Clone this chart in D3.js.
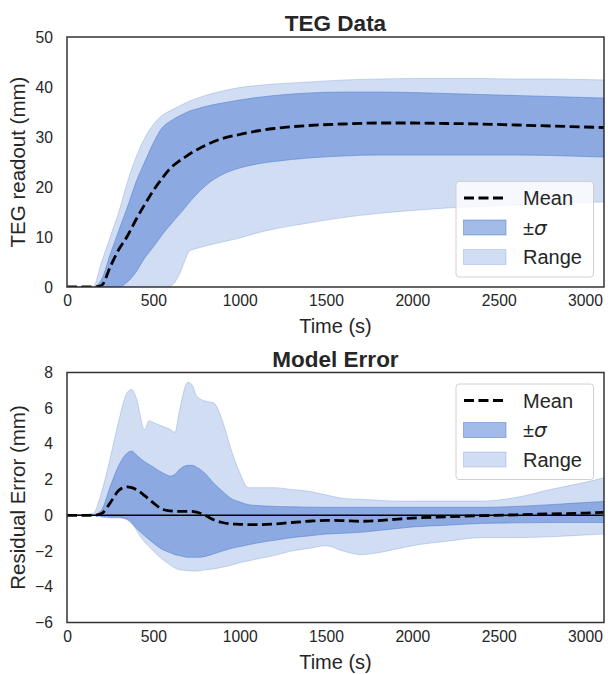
<!DOCTYPE html>
<html>
<head>
<meta charset="utf-8">
<script src="https://cdn.jsdelivr.net/npm/d3@7"></script>
<style>
  body { margin: 0; background: #fff; }
  text { font-family: "Liberation Sans", Arial, sans-serif; fill: #262626; }
</style>
</head>
<body>
<svg id="canvas" width="608" height="675"></svg>
<script>
// ---- data ----
// top panel: TEG readout (mm)
const tegTime   = [0,150,200,250,300,350,400,450,500,550,600,650,680,710,750,800,900,1000,1100,1200,1400,1600,1800,2000,2200,2400,2600,2800,3000,3110];
const tegMean   = [0,0,0.3,4,7.5,10.2,13.5,16.5,19.3,21.7,23.8,25.2,25.9,26.6,27.4,28.3,29.7,30.5,31.2,31.7,32.3,32.6,32.8,32.8,32.7,32.6,32.4,32.2,32.0,31.9];
const tegSdHi   = [0,0,1.5,6.5,11.3,16,21,25,28.8,31.8,33.2,34.2,34.7,35.2,35.6,36.1,36.8,37.4,37.9,38.3,38.8,39,39,38.9,38.7,38.5,38.3,38.1,37.9,37.8];
const tegSdLo   = [0,0,0,0,0,1.0,3,5.8,8,10.4,12.5,14.5,15.7,17,18.5,20.2,22.5,23.8,24.6,25.1,25.8,26.2,26.4,26.4,26.4,26.4,26.4,26.3,26.1,26];
const tegMax    = [0,0,5,10,15,21,26,29.8,32.5,34.3,35.3,36.2,36.7,37.2,37.7,38.3,39.2,39.9,40.3,40.6,41,41.4,41.6,41.7,41.7,41.7,41.6,41.6,41.5,41.4];
const tegMin    = [0,0,0,0,0,0,0,0,0,0,0.2,2.5,5,7.2,7.7,8.2,9,9.8,10.8,11.6,12.8,13.9,14.7,15.3,15.8,16.1,16.4,16.7,16.9,17];

// bottom panel: residual error (mm)
const errTime   = [0,150,200,250,300,350,375,400,450,475,500,550,600,625,650,700,725,750,800,850,900,950,1000,1050,1100,1200,1300,1400,1500,1600,1700,1800,1900,2000,2200,2400,2600,2800,3000,3110];
const errMean   = [0,0,0.1,0.7,1.4,1.6,1.55,1.45,1.1,0.9,0.7,0.35,0.25,0.23,0.22,0.22,0.22,0.18,0,-0.25,-0.4,-0.48,-0.5,-0.52,-0.52,-0.48,-0.4,-0.33,-0.28,-0.3,-0.33,-0.3,-0.22,-0.15,-0.08,-0.02,0.03,0.08,0.13,0.17];
const errSdHi   = [0,0,0.3,1.6,2.8,3.5,3.6,3.4,3.0,2.85,2.7,2.4,2.2,2.3,2.55,2.8,2.8,2.7,2.35,1.8,1.35,0.95,0.75,0.6,0.55,0.5,0.48,0.46,0.45,0.45,0.45,0.45,0.45,0.45,0.45,0.45,0.5,0.6,0.72,0.78];
const errSdLo   = [0,0,-0.05,-0.1,-0.1,-0.25,-0.45,-0.7,-1.15,-1.35,-1.55,-1.9,-2.1,-2.2,-2.25,-2.35,-2.35,-2.35,-2.3,-2.15,-2.0,-1.85,-1.75,-1.65,-1.55,-1.4,-1.25,-1.15,-1.05,-1.0,-0.95,-0.85,-0.75,-0.65,-0.55,-0.45,-0.42,-0.4,-0.4,-0.4];
const errMax    = [0,0.1,1.3,3.2,5.3,6.9,7.05,6.6,4.8,5.3,5.2,5.0,4.8,4.65,5.8,7.45,7.3,6.7,6.4,6.3,5.3,3.7,2.4,1.55,1.55,1.55,1.45,1.35,1.15,0.95,0.9,0.85,0.8,0.8,0.8,0.8,1.0,1.45,1.85,2.1];
const errMin    = [0,0,-0.1,-0.15,-0.15,-0.2,-0.35,-0.8,-1.5,-1.75,-2.0,-2.45,-2.8,-2.95,-3.05,-3.1,-3.12,-3.12,-3.05,-3.0,-2.9,-2.8,-2.65,-2.55,-2.45,-2.25,-2.0,-1.85,-1.7,-2.0,-2.2,-2.1,-1.9,-1.7,-1.45,-1.25,-1.25,-1.2,-1.1,-1.05];

const xTicks    = [0,500,1000,1500,2000,2500,3000];
const tegTicks  = [0,10,20,30,40,50];
const errTicks  = [-6,-4,-2,0,2,4,6,8];
const legendItems = ["Mean", "sigma", "Range"];

const blue = "#4878d0";
const svg = d3.select("#canvas");
const left = 67, right = 604;

function panel(cfg) {
    const x = d3.scaleLinear().domain([0, 3110]).range([left, right]);
    const y = d3.scaleLinear().domain(cfg.yDomain).range([cfg.bottom, cfg.top]);
    const g = svg.append("g");

    // clip so the bands stay inside the frame
    g.append("clipPath").attr("id", cfg.id + "-clip")
      .append("rect")
        .attr("x", left).attr("y", cfg.top)
        .attr("width", right - left).attr("height", cfg.bottom - cfg.top);
    const plot = g.append("g").attr("clip-path", "url(#" + cfg.id + "-clip)");

    const rows = cfg.time.map((t, i) => ({
        t: t, mean: cfg.mean[i], sdHi: cfg.sdHi[i], sdLo: cfg.sdLo[i], max: cfg.max[i], min: cfg.min[i]
    }));

    const band = (lo, hi) => d3.area()
        .curve(d3.curveMonotoneX)
        .x(d => x(d.t)).y0(d => y(d[lo])).y1(d => y(d[hi]));

    // range band then sigma band (alpha stacks like matplotlib)
    plot.append("path").datum(rows)
        .attr("d", band("min", "max"))
        .attr("fill", blue).attr("fill-opacity", 0.25)
        .attr("stroke", blue).attr("stroke-opacity", 0.25).attr("stroke-width", 1);
    plot.append("path").datum(rows)
        .attr("d", band("sdLo", "sdHi"))
        .attr("fill", blue).attr("fill-opacity", 0.5)
        .attr("stroke", blue).attr("stroke-opacity", 0.5).attr("stroke-width", 1);

    if (cfg.zeroLine) {
        plot.append("line")
            .attr("x1", left).attr("x2", right)
            .attr("y1", y(0)).attr("y2", y(0))
            .attr("stroke", "#000").attr("stroke-width", 1.5);
    }

    plot.append("path").datum(rows)
        .attr("d", d3.line().curve(d3.curveMonotoneX).x(d => x(d.t)).y(d => y(d.mean)))
        .attr("fill", "none").attr("stroke", "#000")
        .attr("stroke-width", 2.8).attr("stroke-dasharray", "10,4.5");

    // axes without tick marks
    const xa = g.append("g").attr("transform", "translate(0," + cfg.bottom + ")")
        .call(d3.axisBottom(x).tickValues(xTicks).tickSize(0).tickPadding(8).tickFormat(d3.format("d")));
    const ya = g.append("g").attr("transform", "translate(" + left + ",0)")
        .call(d3.axisLeft(y).tickValues(cfg.yTicks).tickSize(0).tickPadding(14)
              .tickFormat(d => d < 0 ? "\u2212" + Math.abs(d) : d));
    [xa, ya].forEach(a => {
        a.select(".domain").remove();
        a.selectAll("text").style("font-size", "15.7px").attr("fill", "#262626");
    });
    xa.selectAll("text").attr("dy", "0.71em");

    // frame
    g.append("rect")
        .attr("x", left).attr("y", cfg.top)
        .attr("width", right - left).attr("height", cfg.bottom - cfg.top)
        .attr("fill", "none").attr("stroke", "#333").attr("stroke-width", 1.5);

    // titles
    g.append("text")
        .attr("x", (left + right) / 2).attr("y", cfg.top - 6)
        .attr("text-anchor", "middle")
        .style("font-size", "22.5px").style("font-weight", "bold")
        .text(cfg.title);
    g.append("text")
        .attr("x", (left + right) / 2).attr("y", cfg.bottom + 46)
        .attr("text-anchor", "middle")
        .style("font-size", "20px")
        .text("Time (s)");
    g.append("text")
        .attr("transform", "translate(25," + (cfg.top + cfg.bottom) / 2 + ") rotate(-90)")
        .attr("text-anchor", "middle")
        .style("font-size", "20.5px")
        .text(cfg.yLabel);

    // legend
    const lg = g.append("g").attr("transform", "translate(456," + cfg.legendY + ")");
    lg.append("rect")
        .attr("width", 137.5).attr("height", 95.5).attr("rx", 3)
        .attr("fill", "#fff").attr("fill-opacity", 0.8)
        .attr("stroke", "#d0d0d0").attr("stroke-width", 1);
    const item = lg.selectAll(".legend").data(legendItems).enter().append("g")
        .attr("class", "legend")
        .attr("transform", (d, i) => "translate(0," + (i * 29.5) + ")");
    item.each(function(d) {
        const it = d3.select(this);
        if (d === "Mean") {
            it.append("line").attr("x1", 8).attr("x2", 50).attr("y1", 16.5).attr("y2", 16.5)
                .attr("stroke", "#000").attr("stroke-width", 2.8).attr("stroke-dasharray", "10,4.5");
        } else {
            it.append("rect").attr("x", 7.5).attr("y", 9).attr("width", 42.5).attr("height", 15)
                .attr("fill", blue).attr("fill-opacity", d === "sigma" ? 0.5 : 0.25)
                .attr("stroke", blue).attr("stroke-opacity", d === "sigma" ? 0.5 : 0.25);
        }
        const t = it.append("text").attr("x", 67).attr("y", 23.5).style("font-size", "20px");
        if (d === "sigma") {
            t.append("tspan").text("\u00B1");
            t.append("tspan").style("font-style", "italic").style("font-family", "DejaVu Sans").text("\u03C3");
        } else {
            t.text(d);
        }
    });
}

panel({
    id: "teg", top: 37, bottom: 287, yDomain: [0, 50], yTicks: tegTicks,
    time: tegTime, mean: tegMean, sdHi: tegSdHi, sdLo: tegSdLo, max: tegMax, min: tegMin,
    title: "TEG Data", yLabel: "TEG readout (mm)", legendY: 181.5, zeroLine: false
});
panel({
    id: "err", top: 372.5, bottom: 622.5, yDomain: [-6, 8], yTicks: errTicks,
    time: errTime, mean: errMean, sdHi: errSdHi, sdLo: errSdLo, max: errMax, min: errMin,
    title: "Model Error", yLabel: "Residual Error (mm)", legendY: 384, zeroLine: true
});
</script>
</body>
</html>
